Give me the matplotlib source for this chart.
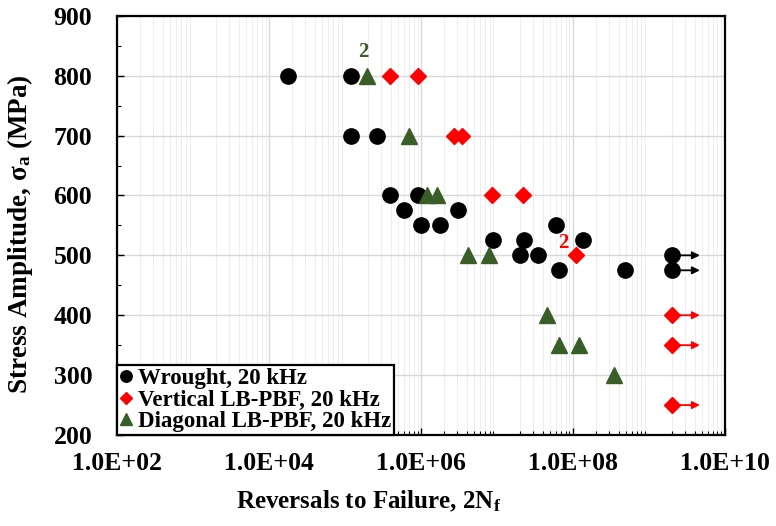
import numpy as np
import matplotlib
matplotlib.use('Agg')
import matplotlib.pyplot as plt
from matplotlib.ticker import LogLocator, MultipleLocator, NullFormatter

# 数据
wrought_n = [1.8e4, 1.2e5, 1.2e5, 2.6e5, 3.9e5, 9.1e5, 6.0e5, 1.0e6, 1.8e6, 3.1e6,
             9.0e6, 2.3e7, 2.0e7, 3.5e7, 6.0e7, 1.35e8, 6.6e7, 4.8e8, 2.0e9, 2.0e9]
wrought_s = [800, 800, 700, 700, 600, 600, 575, 550, 550, 575,
             525, 525, 500, 500, 550, 525, 475, 475, 500, 475]
vertical_n = [3.9e5, 9.0e5, 2.7e6, 3.5e6, 8.5e6, 2.2e7, 1.1e8, 2.0e9, 2.0e9, 2.0e9]
vertical_s = [800, 800, 700, 700, 600, 600, 500, 400, 350, 250]
diagonal_n = [1.95e5, 6.9e5, 1.2e6, 1.65e6, 4.2e6, 7.8e6, 4.5e7, 6.6e7, 1.2e8, 3.5e8]
diagonal_s = [800, 700, 600, 600, 500, 500, 400, 350, 350, 300]

# 未断裂(runout)
runout_n = [2.0e9, 2.0e9, 2.0e9, 2.0e9, 2.0e9]
runout_end = 4.7e9
runout_s = [500, 475, 400, 350, 250]
runout_c = ['black', 'black', 'red', 'red', 'red']

labels = ['Wrought, 20 kHz', 'Vertical LB-PBF, 20 kHz', 'Diagonal LB-PBF, 20 kHz']
green = '#385d27'

plt.rcParams['font.family'] = ['Liberation Serif', 'DejaVu Serif']
plt.rcParams['font.weight'] = 'bold'
plt.rcParams['mathtext.fontset'] = 'custom'
plt.rcParams['mathtext.rm'] = 'Liberation Serif:bold'
plt.rcParams['mathtext.it'] = 'Liberation Serif:bold'
plt.rcParams['mathtext.bf'] = 'Liberation Serif:bold'

fig = plt.figure(figsize=(7.76, 5.26), dpi=100)
ax = fig.add_axes([0.151, 0.173, 0.783, 0.797])

# 箭头先画，让点盖在上面
for x0, y0, c in zip(runout_n, runout_s, runout_c):
    ax.annotate('', xy=(runout_end, y0), xytext=(x0, y0),
                arrowprops=dict(arrowstyle='-|>', color=c, lw=1.3,
                                mutation_scale=11, shrinkA=0, shrinkB=0), zorder=2)

ax.plot(wrought_n, wrought_s, 'o', color='black', markersize=11, label=labels[0], zorder=3)
ax.plot(vertical_n, vertical_s, 'D', color='red', markersize=8.5, label=labels[1], zorder=3)
ax.plot(diagonal_n, diagonal_s, '^', color=green, markersize=11, label=labels[2], zorder=3)

ax.text(1.75e5, 840, '2', color=green, fontsize=15, ha='center', va='center', fontweight='bold')
ax.text(7.4e7, 521, '2', color='red', fontsize=15, ha='center', va='center', fontweight='bold')

ax.set_xscale('log')
ax.set_xlim(1e2, 1e10)
ax.set_ylim(200, 900)

ax.xaxis.set_major_locator(LogLocator(base=10, numticks=20))
ax.xaxis.set_minor_locator(LogLocator(base=10, subs=np.arange(2, 10), numticks=20))
ax.xaxis.set_minor_formatter(NullFormatter())
xt = [1e2, 1e4, 1e6, 1e8, 1e10]
ax.set_xticks(xt)
ax.set_xticklabels(['1.0E+%02d' % int(np.log10(v)) for v in xt])
ax.yaxis.set_major_locator(MultipleLocator(100))
ax.yaxis.set_minor_locator(MultipleLocator(50))

ax.grid(True, which='major', color='#d9d9d9', lw=1.0)
ax.grid(True, which='minor', axis='x', color='#eeeeee', lw=0.8)
ax.set_axisbelow(True)

ax.tick_params(which='both', direction='in', labelsize=18.5)
ax.tick_params(which='major', length=5, width=1)
ax.tick_params(which='minor', length=3, width=0.8)
ax.tick_params(axis='x', pad=12)
ax.tick_params(axis='y', pad=18)

for s in ax.spines.values():
    s.set_linewidth(1.6)
    s.set_color('black')

ax.set_xlabel('Reversals to Failure, 2N$_\\mathregular{f}$', fontsize=18, fontweight='bold')
ax.set_ylabel('Stress Amplitude, $\\mathregular{\\sigma_a}$ (MPa)', fontsize=19.5, fontweight='bold')
ax.xaxis.set_label_coords(0.414, -0.128)
ax.yaxis.set_label_coords(-0.135, 0.48)

leg = ax.legend(loc='lower left', bbox_to_anchor=(0, 0), borderaxespad=0.0, fancybox=False,
                edgecolor='black', framealpha=1, prop={'size': 16.5, 'weight': 'bold'},
                handlelength=0.5, handletextpad=0.25, labelspacing=0.0, borderpad=0.15,
                markerscale=0.75)
leg.get_frame().set_linewidth(1.6)

fig.savefig('out.png', dpi=100)
